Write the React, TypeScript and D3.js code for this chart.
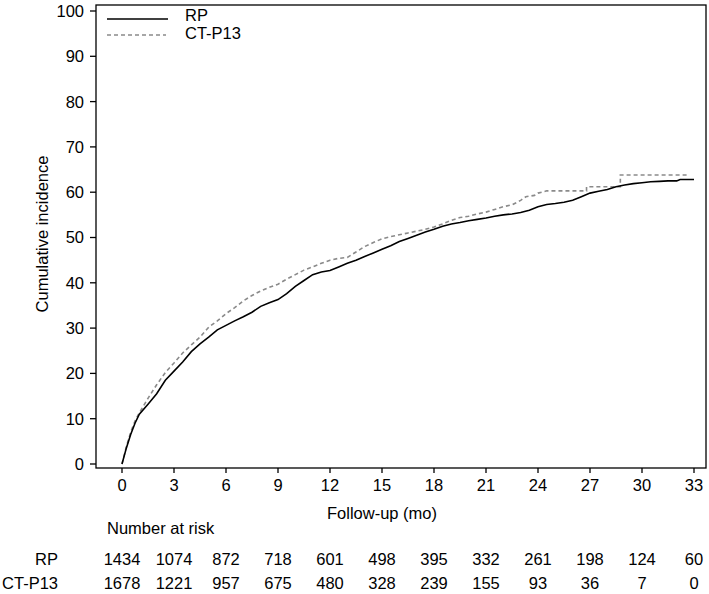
import React from "react";
import * as d3 from "d3";

const xTicks = [0, 3, 6, 9, 12, 15, 18, 21, 24, 27, 30, 33];
const yTicks = [0, 10, 20, 30, 40, 50, 60, 70, 80, 90, 100];

const rpTime = [0, 0.25, 0.5, 0.75, 1, 1.5, 2, 2.5, 3, 3.5, 4, 4.5, 5, 5.5, 6, 6.5, 7, 7.5, 8, 8.5, 9, 9.5, 10, 10.5, 11, 11.5, 12, 12.5, 13, 13.5, 14, 14.5, 15, 15.5, 16, 16.5, 17, 17.5, 18, 18.5, 19, 19.5, 20, 20.5, 21, 21.5, 22, 22.5, 23, 23.5, 24, 24.5, 25, 25.5, 26, 26.5, 27, 27.5, 28, 28.5, 29, 29.5, 30, 30.5, 31, 31.5, 32, 32.2, 33];
const rpValue = [0, 3.5, 6.5, 9, 11, 13.2, 15.5, 18.5, 20.5, 22.5, 24.8, 26.5, 28, 29.6, 30.6, 31.6, 32.5, 33.5, 34.8, 35.6, 36.3, 37.6, 39.2, 40.5, 41.8, 42.4, 42.7, 43.5, 44.3, 45, 45.8, 46.6, 47.4, 48.2, 49.1, 49.8, 50.5, 51.2, 51.8, 52.5, 53, 53.3, 53.7, 54, 54.3, 54.7, 55, 55.2, 55.5, 56, 56.8, 57.3, 57.5, 57.8, 58.2, 59, 59.8, 60.2, 60.6, 61.2, 61.6, 61.9, 62.1, 62.3, 62.4, 62.5, 62.5, 62.8, 62.8];

const ctTime = [0, 0.25, 0.5, 0.75, 1, 1.5, 2, 2.5, 3, 3.5, 4, 4.5, 5, 5.5, 6, 6.5, 7, 7.5, 8, 8.5, 9, 9.5, 10, 10.5, 11, 11.5, 12, 12.5, 13, 13.5, 14, 14.5, 15, 15.5, 16, 16.5, 17, 17.5, 18, 18.5, 19, 19.5, 20, 20.5, 21, 21.5, 22, 22.5, 23, 23.3, 23.8, 24, 24.5, 26.8, 26.8, 28.75, 28.75, 32.6];
const ctValue = [0, 3.8, 7, 9.5, 11.3, 14.5, 17.5, 20.2, 22.3, 24.5, 26.3, 28, 30.2, 31.6, 33.2, 34.5, 36, 37.2, 38.2, 39, 39.7, 40.8, 41.8, 42.8, 43.5, 44.3, 45, 45.4, 45.6, 46.8, 48, 48.9, 49.7, 50.2, 50.6, 51, 51.4, 51.8, 52.3, 53, 53.8, 54.4, 54.7, 55.2, 55.6, 56.2, 56.8, 57.2, 58.2, 59, 59.3, 59.8, 60.3, 60.3, 61.2, 61.2, 63.8, 63.8];

const seriesNames = ["RP", "CT-P13"];
const riskRP = [1434, 1074, 872, 718, 601, 498, 395, 332, 261, 198, 124, 60];
const riskCT = [1678, 1221, 957, 675, 480, 328, 239, 155, 93, 36, 7, 0];

const FONT = "'Liberation Sans', Arial, Helvetica, sans-serif";

export default function App() {
  const left = 96, right = 706, top = 5, bottom = 468;
  const x = d3.scaleLinear().domain([0, 33]).range([122, 694]);
  const y = d3.scaleLinear().domain([0, 100]).range([464, 11]);

  const line = d3
    .line<[number, number]>()
    .x((d) => x(d[0]))
    .y((d) => y(d[1]))
    .curve(d3.curveLinear);

  const rpData: [number, number][] = rpTime.map((t, i) => [t, rpValue[i]]);
  const ctData: [number, number][] = ctTime.map((t, i) => [t, ctValue[i]]);

  const fs = 16.5;

  return (
    <svg
      width={709}
      height={594}
      style={{ position: "absolute", left: 0, top: 0, background: "#fff" }}
      fontFamily={FONT}
    >
      <rect x={0} y={0} width={709} height={594} fill="#fff" />
      {/* plot box */}
      <rect x={left} y={top} width={right - left} height={bottom - top} fill="none" stroke="#000" strokeWidth={1.3} />

      {/* y ticks */}
      {yTicks.map((t) => (
        <g key={"y" + t}>
          <line x1={left - 6} x2={left} y1={y(t)} y2={y(t)} stroke="#000" strokeWidth={1.3} />
          <text x={left - 12} y={y(t)} dy="0.36em" textAnchor="end" fontSize={fs} fill="#000">
            {t}
          </text>
        </g>
      ))}

      {/* x ticks */}
      {xTicks.map((t) => (
        <g key={"x" + t}>
          <line x1={x(t)} x2={x(t)} y1={bottom} y2={bottom + 5} stroke="#000" strokeWidth={1.3} />
          <text x={x(t)} y={491} textAnchor="middle" fontSize={fs} fill="#000">
            {t}
          </text>
        </g>
      ))}

      {/* axis titles */}
      <text x={382} y={519} textAnchor="middle" fontSize={fs} fill="#000">
        Follow-up (mo)
      </text>
      <text
        transform={`translate(47.5,234) rotate(-90)`}
        textAnchor="middle"
        fontSize={fs}
        fill="#000"
      >
        Cumulative incidence
      </text>

      {/* curves */}
      <path d={line(ctData) || ""} fill="none" stroke="#8a8a8a" strokeWidth={1.6} strokeDasharray="4,3" />
      <path d={line(rpData) || ""} fill="none" stroke="#000" strokeWidth={1.6} />

      {/* legend */}
      <line x1={107} x2={168} y1={19} y2={19} stroke="#000" strokeWidth={1.5} />
      <text x={185} y={20.5} fontSize={fs} fill="#000">{seriesNames[0]}</text>
      <line x1={107} x2={166} y1={35} y2={35} stroke="#8a8a8a" strokeWidth={1.6} strokeDasharray="4,3" />
      <text x={185} y={38.5} fontSize={fs} fill="#000">{seriesNames[1]}</text>

      {/* number at risk */}
      <text x={107} y={534} fontSize={fs} fill="#000">Number at risk</text>
      <text x={58} y={565} textAnchor="end" fontSize={fs} fill="#000">{seriesNames[0]}</text>
      <text x={58} y={589} textAnchor="end" fontSize={fs} fill="#000">{seriesNames[1]}</text>
      {riskRP.map((n, i) => (
        <text key={"r" + i} x={x(xTicks[i])} y={565} textAnchor="middle" fontSize={fs} fill="#000">
          {n}
        </text>
      ))}
      {riskCT.map((n, i) => (
        <text key={"c" + i} x={x(xTicks[i])} y={589} textAnchor="middle" fontSize={fs} fill="#000">
          {n}
        </text>
      ))}
    </svg>
  );
}
